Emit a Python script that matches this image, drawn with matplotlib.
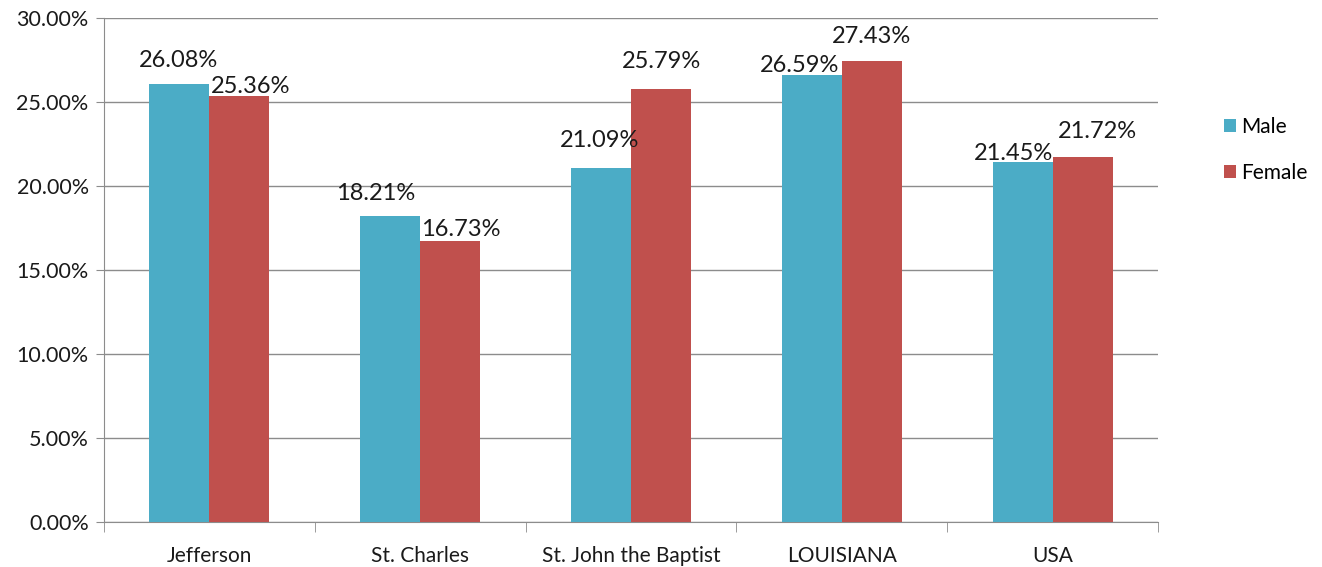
import matplotlib.pyplot as plt
import numpy as np
from matplotlib.ticker import FuncFormatter, MultipleLocator

plt.rcParams["font.family"] = ["Lato", "DejaVu Sans"]

regions = ["Jefferson", "St. Charles", "St. John the Baptist", "LOUISIANA", "USA"]
male = [26.08, 18.21, 21.09, 26.59, 21.45]
female = [25.36, 16.73, 25.79, 27.43, 21.72]

# label nudges (pixels) so the overlapping labels stay readable
male_offsets = [(-1, 23), (-15, 23), (-1, 27), (-12, 10), (-9, 8)]
female_offsets = [(11, 9), (11, 11), (0, 27), (0, 25), (15, 26)]

MALE_COLOR = "#4BACC6"
FEMALE_COLOR = "#C0504D"
GRID_COLOR = "#8C8C8C"

fig = plt.figure(figsize=(13.22, 5.67), dpi=100)
ax = fig.add_axes([104 / 1322, 45 / 567, 1054 / 1322, 504 / 567])

x = np.arange(len(regions))
width = 0.285
bm = ax.bar(x - width / 2, male, width, color=MALE_COLOR, label="Male", zorder=3)
bf = ax.bar(x + width / 2, female, width, color=FEMALE_COLOR, label="Female", zorder=3)

px = 72 / fig.dpi
for bars, vals, offs in ((bm, male, male_offsets), (bf, female, female_offsets)):
    for b, v, (dx, dy) in zip(bars, vals, offs):
        ax.annotate(f"{v:.2f}%", (b.get_x() + b.get_width() / 2, v),
                    xytext=(dx * px, dy * px), textcoords="offset points",
                    ha="center", va="center", fontsize=17, color="#1a1a1a",
                    zorder=4)

ax.set_xlim(-0.5, len(regions) - 0.5)
ax.set_ylim(0, 30)
ax.yaxis.set_major_locator(MultipleLocator(5))
ax.yaxis.set_major_formatter(FuncFormatter(lambda v, _: f"{v:.2f}%"))
ax.grid(axis="y", color=GRID_COLOR, linewidth=1, zorder=0)

ax.set_xticks(x)
ax.set_xticklabels(regions)
ax.set_xticks(np.arange(-0.5, len(regions)), minor=True)
ax.tick_params(axis="x", which="major", length=0, pad=17, labelsize=15)
ax.tick_params(axis="x", which="minor", length=7, color=GRID_COLOR)
ax.tick_params(axis="y", length=6, color=GRID_COLOR, labelsize=15.5, pad=5,
               labelcolor="#1a1a1a")
ax.tick_params(axis="x", labelcolor="#1a1a1a")

for side in ("top", "right"):
    ax.spines[side].set_visible(False)
for side in ("left", "bottom"):
    ax.spines[side].set_color(GRID_COLOR)

fig.legend(handles=[bm, bf], loc="upper left", bbox_to_anchor=(1205 / 1322, 1 - 98 / 567),
           frameon=False, fontsize=15, handlelength=0.6, handleheight=0.6,
           handletextpad=0.25, labelspacing=1.25)

fig.savefig("out.png", dpi=100)
